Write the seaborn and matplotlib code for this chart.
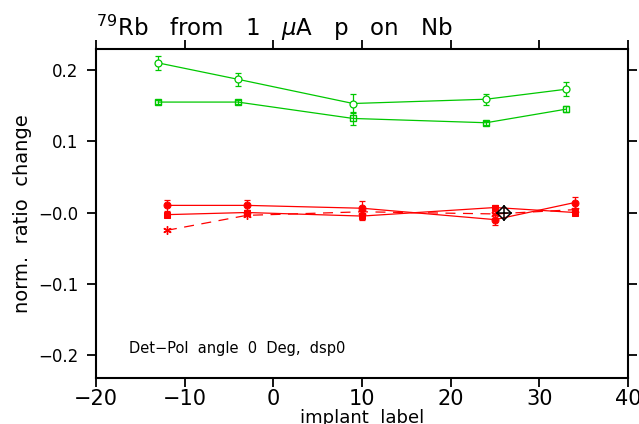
import matplotlib
matplotlib.use("Agg")
import matplotlib.pyplot as plt
import seaborn as sns
import numpy as np
import pandas as pd

# ---- data ----
green_x = [-13, -4, 9, 24, 33]
green_circ = [0.210, 0.187, 0.153, 0.159, 0.173]
green_circ_err = [0.010, 0.009, 0.014, 0.008, 0.010]
green_sq = [0.155, 0.155, 0.132, 0.126, 0.145]
green_sq_err = [0.003, 0.003, 0.009, 0.003, 0.004]

red_x = [-12, -3, 10, 25, 34]
red_circ = [0.010, 0.010, 0.006, -0.010, 0.014]
red_circ_err = [0.008, 0.007, 0.010, 0.008, 0.008]
red_sq = [-0.003, 0.000, -0.005, 0.007, 0.000]
red_sq_err = [0.003, 0.003, 0.005, 0.003, 0.003]
red_star = [-0.025, -0.004, 0.001, -0.002, 0.004]

ref_x = [26.0]
ref_y = [0.0]

xticks = [-20, -10, 0, 10, 20, 30, 40]
xticklabels = ["\u221220", "\u221210", "0", "10", "20", "30", "40"]
yticks = [0.2, 0.1, 0.0, -0.1, -0.2]
yticklabels = ["0.2", "0.1", "\u22120.0", "\u22120.1", "\u22120.2"]

title = r"$^{79}$Rb   from   1   $\mu$A   p   on   Nb"
annotation = "Det\u2212Pol  angle  0  Deg,  dsp0"
xlabel = "implant  label"
ylabel = "norm.  ratio  change"

# ---- style ----
sns.set_style("ticks")
plt.rcParams['font.family'] = ['DejaVu Sans']
plt.rcParams['axes.linewidth'] = 1.5
plt.rcParams['text.color'] = 'black'
plt.rcParams['axes.labelcolor'] = 'black'
plt.rcParams['xtick.color'] = 'black'
plt.rcParams['ytick.color'] = 'black'

GREEN = "#00c800"
RED = "#ff0000"

fig = plt.figure(figsize=(6.39, 4.24), dpi=100)
ax = fig.add_axes([96/639, 1 - 378/424, (628-96)/639, (378-49)/424])

def series(x, y, **kw):
    df = pd.DataFrame({"x": x, "y": y})
    sns.lineplot(data=df, x="x", y="y", ax=ax, sort=False, estimator=None, **kw)

# green
ax.errorbar(green_x, green_circ, yerr=green_circ_err, fmt="none", ecolor=GREEN,
            elinewidth=0.9, capsize=2.5, capthick=0.9)
series(green_x, green_circ, color=GREEN, lw=0.9, marker="o", ms=5,
       mfc="white", mec=GREEN, mew=0.9)
ax.errorbar(green_x, green_sq, yerr=green_sq_err, fmt="none", ecolor=GREEN,
            elinewidth=0.9, capsize=2.5, capthick=0.9)
series(green_x, green_sq, color=GREEN, lw=0.9, marker="s", ms=5,
       mfc="none", mec=GREEN, mew=1.0)

# red
ax.errorbar(red_x, red_circ, yerr=red_circ_err, fmt="none", ecolor=RED,
            elinewidth=0.9, capsize=2.5, capthick=0.9)
series(red_x, red_circ, color=RED, lw=0.9, marker="o", ms=5,
       mfc=RED, mec=RED)
ax.errorbar(red_x, red_sq, yerr=red_sq_err, fmt="none", ecolor=RED,
            elinewidth=0.9, capsize=2.5, capthick=0.9)
series(red_x, red_sq, color=RED, lw=0.9, marker="s", ms=5,
       mfc=RED, mec=RED)
series(red_x, red_star, color=RED, lw=0.9, marker=(6, 2, 0), ms=6,
       mfc=RED, mec=RED, mew=1.0, linestyle=(0, (8, 6)))

# reference point
series(ref_x, ref_y, color="black", lw=0, marker="D", ms=7, mfc="none",
       mec="black", mew=1.1)
series(ref_x, ref_y, color="black", lw=0, marker="+", ms=11, mec="black", mew=1.1)

ax.set_xlim(-20, 40)
ax.set_ylim(-0.2323, 0.2295)
ax.set_xticks(xticks)
ax.set_xticklabels(xticklabels, fontsize=15)
ax.set_yticks(yticks)
ax.set_yticklabels(yticklabels, fontsize=12)
ax.tick_params(axis="both", which="major", direction="out", length=6.5,
               width=1.3, top=True, right=True, labeltop=False, labelright=False,
               colors="black")
ax.tick_params(axis="x", pad=1.5)
ax.tick_params(axis="y", pad=6)
ax.minorticks_off()
for s in ax.spines.values():
    s.set_visible(True)
    s.set_linewidth(1.5)
    s.set_color("black")

ax.set_xlabel(xlabel, fontsize=13, labelpad=0)
ax.set_ylabel(ylabel, fontsize=14)
ax.yaxis.set_label_coords(-0.12, 0.5)

ax.text(-16.3, -0.197, annotation, fontsize=10.5, ha="left", va="baseline")

fig.text(96/639, 1 - 36/424, title, fontsize=16.5, ha="left", va="baseline")

fig.savefig("out.png", dpi=100)
